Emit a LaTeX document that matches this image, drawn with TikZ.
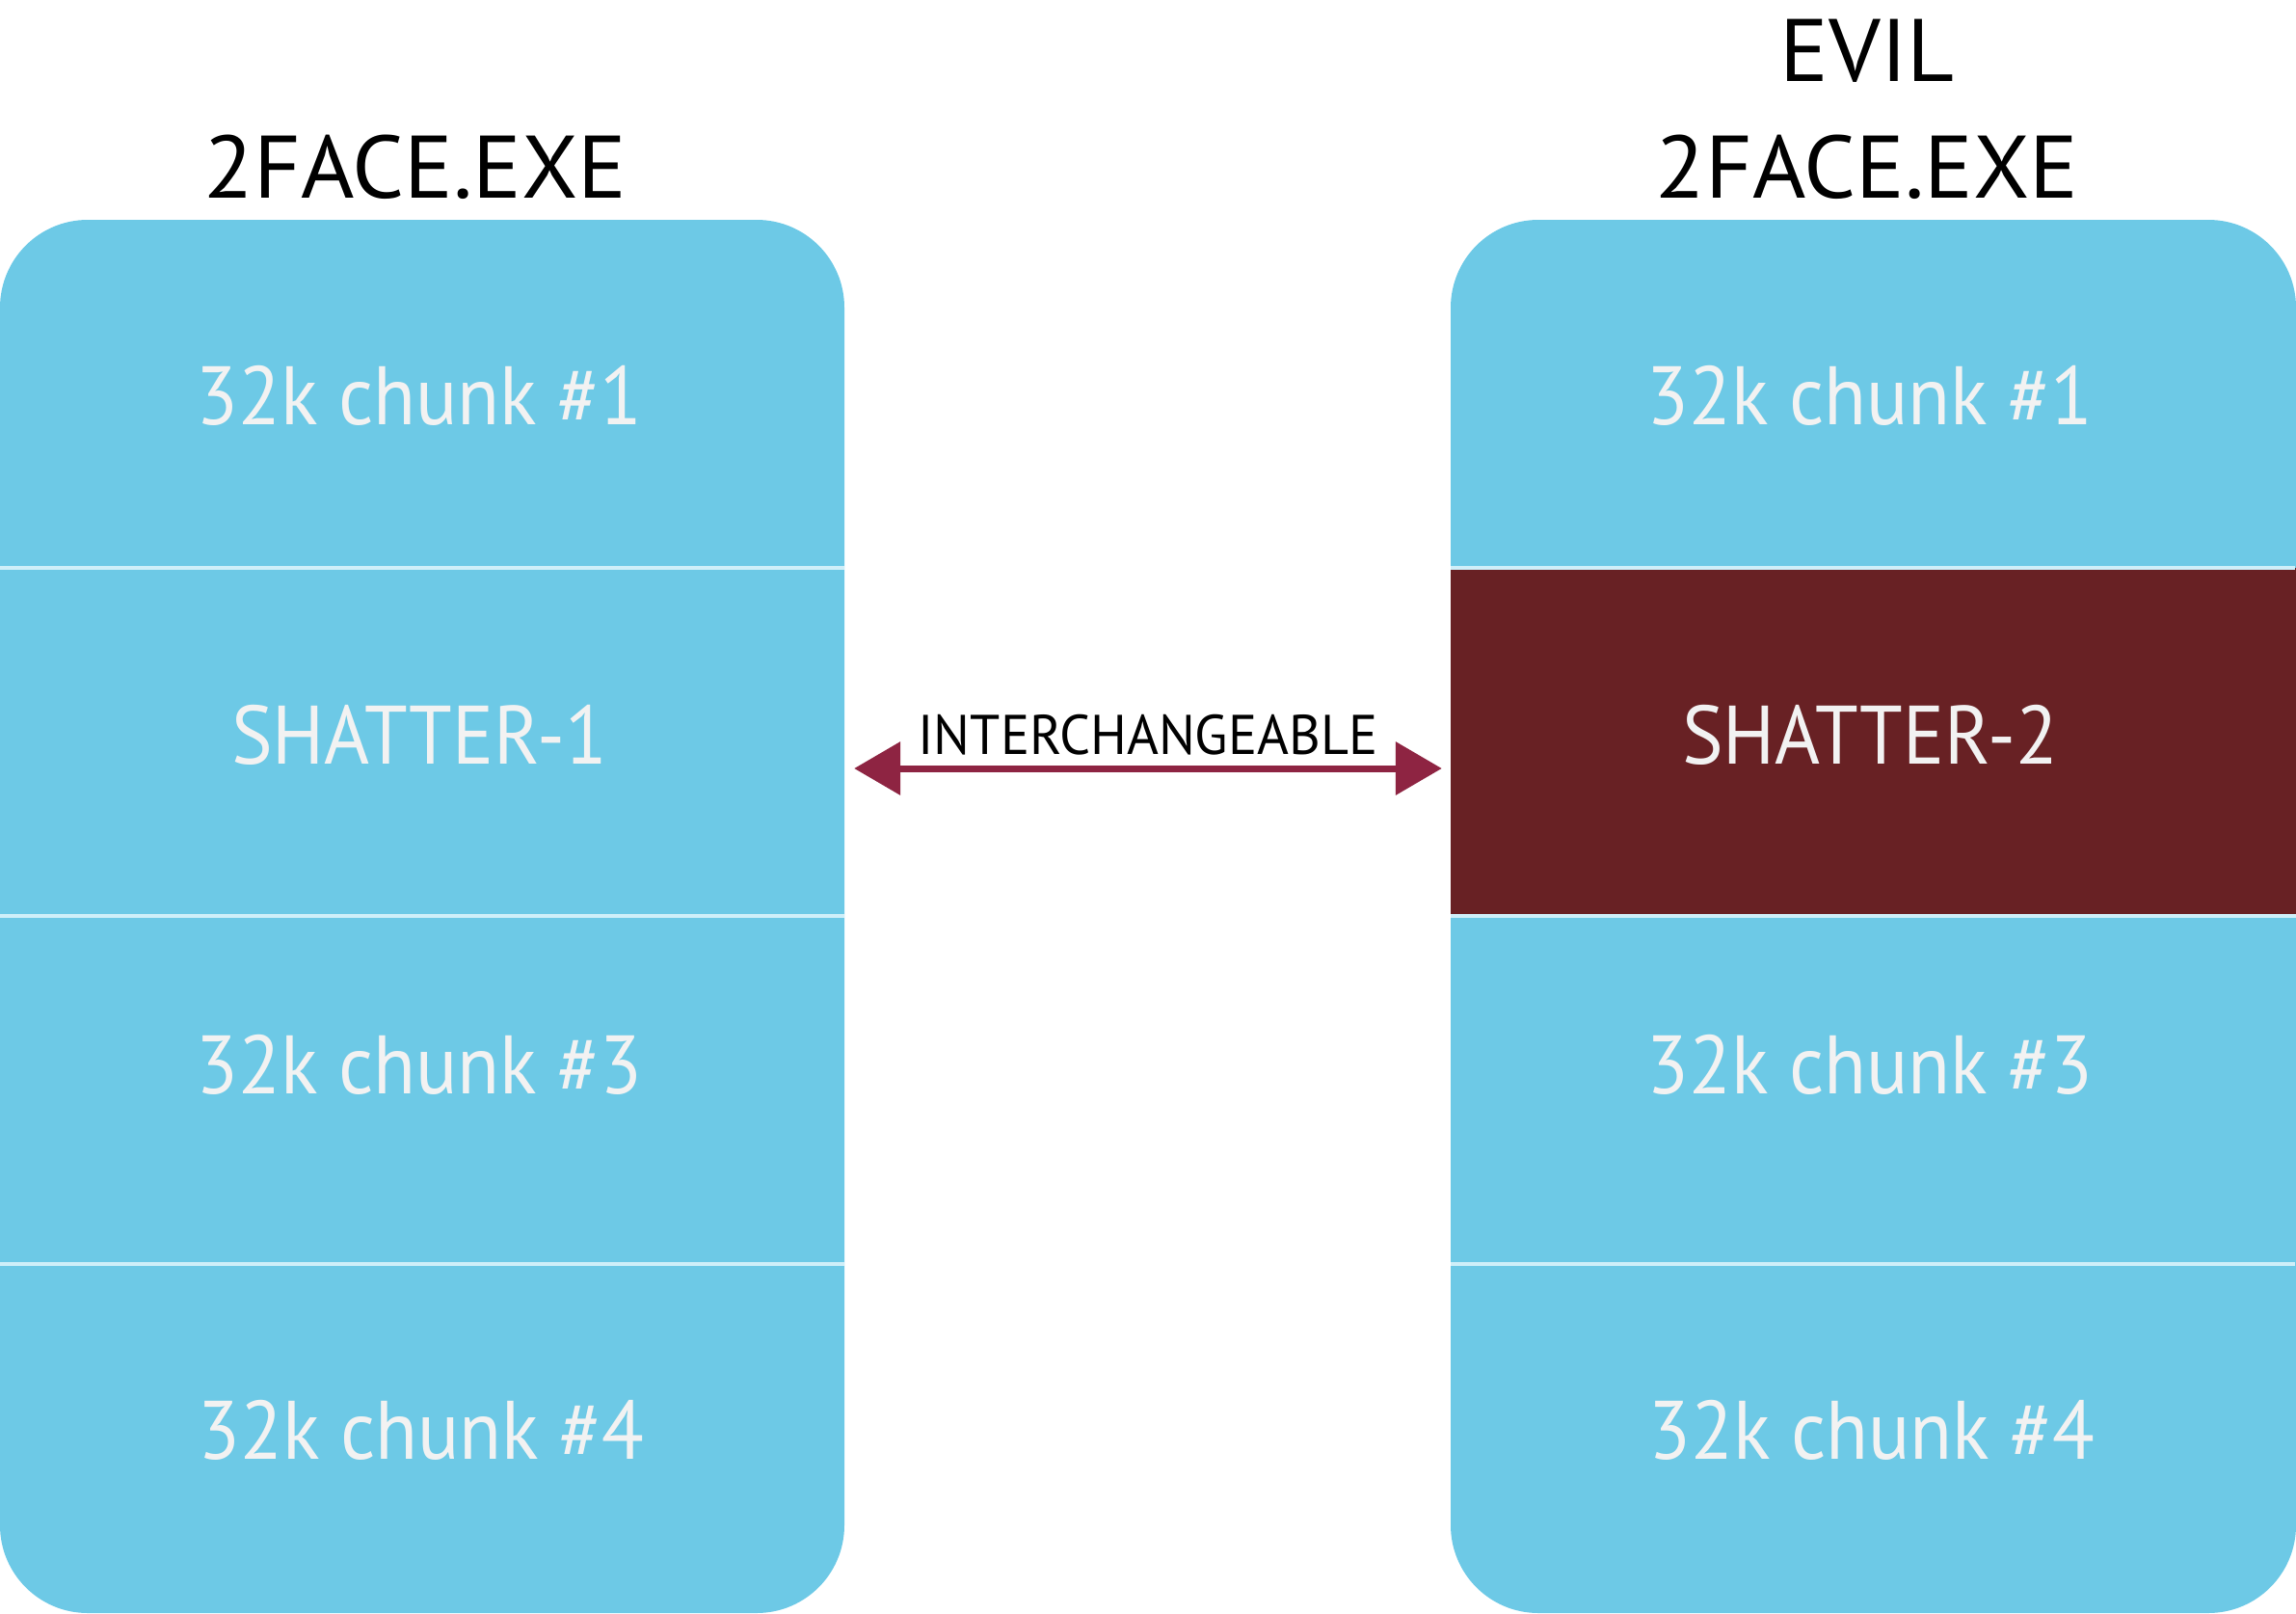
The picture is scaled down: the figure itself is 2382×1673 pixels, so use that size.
\documentclass[tikz,border=0pt]{standalone}
\usepackage{fontspec}
\setmainfont{PT Sans}
\newfontfamily\chunkfont[FakeStretch=0.935]{PT Sans}
\newfontfamily\titlefont[FakeStretch=1.03]{PT Sans}
\newfontfamily\labfont[FakeStretch=0.97]{PT Sans}
\usetikzlibrary{arrows.meta,calc}
\definecolor{boxblue}{HTML}{6DC9E6}
\definecolor{evilred}{HTML}{682124}
\definecolor{arrowred}{HTML}{8E2442}
\definecolor{chunktext}{HTML}{F2F2F2}
\definecolor{divline}{HTML}{CFEFF9}
\tikzset{
  sect/.style={minimum width=876pt, minimum height=361pt, inner sep=0pt, draw=none},
  chunklabel/.style={text=chunktext, font=\chunkfont\fontsize{86}{90}\selectfont, anchor=base, inner sep=0pt},
  title/.style={text=black, font=\titlefont\fontsize{92}{96}\selectfont, anchor=base, inner sep=0pt},
  divider/.style={draw=divline, line width=4pt},
  swaparrow/.style={draw=arrowred, line width=7pt, {Triangle[length=48pt,width=54pt]}-{Triangle[length=48pt,width=54pt]}},
}
\begin{document}
\begin{tikzpicture}[x=1pt,y=-1pt]
\useasboundingbox (0,0) rectangle (2382,1673);
% box backgrounds
\fill[boxblue, rounded corners=91pt] (0,228) rectangle (876,1673);
\fill[boxblue, rounded corners=91pt] (1505,228) rectangle (2382,1673);
% sections
\node[sect] (l1) at (438,408) {};
\node[sect] (l2) at (438,769) {};
\node[sect] (l3) at (438,1130) {};
\node[sect] (l4) at (438,1491) {};
\node[sect] (r1) at (1943,408) {};
\node[sect, fill=evilred, minimum width=877pt] (r2) at (1943.5,769) {};
\node[sect] (r3) at (1943,1130) {};
\node[sect] (r4) at (1943,1491) {};
% dividers
\draw[divider] (l1.south west) -- (l1.south east);
\draw[divider] (l2.south west) -- (l2.south east);
\draw[divider] (l3.south west) -- (l3.south east);
\draw[divider] (r1.south west) -- (r1.south east);
\draw[divider] (r2.south west) -- (r2.south east);
\draw[divider] (r3.south west) -- (r3.south east);
% labels
\node[chunklabel] (t1) at (435,440) {32k chunk \#1};
\node[chunklabel] (t2) at (435,792) {SHATTER-1};
\node[chunklabel] (t3) at (435,1134) {32k chunk \#3};
\node[chunklabel] (t4) at (437,1513) {32k chunk \#4};
\node[chunklabel] (u1) at (1940,440) {32k chunk \#1};
\node[chunklabel] (u2) at (1940,792) {SHATTER-2};
\node[chunklabel] (u3) at (1940,1134) {32k chunk \#3};
\node[chunklabel] (u4) at (1942,1513) {32k chunk \#4};
% titles
\node[title] (ltitle) at (431,205) {2FACE.EXE};
\node[title] (rtitle1) at (1937,84) {EVIL};
\node[title] (rtitle2) at (1937,205) {2FACE.EXE};
% arrow
\draw[swaparrow] ($(l2.east)+(10,28)$) -- ($(r2.west)+(-9,28)$)
  node[midway, anchor=base, yshift=15pt, text=black, font=\labfont\fontsize{58}{60}\selectfont, inner sep=0pt] (lab) {INTERCHANGEABLE};
\end{tikzpicture}
\end{document}
